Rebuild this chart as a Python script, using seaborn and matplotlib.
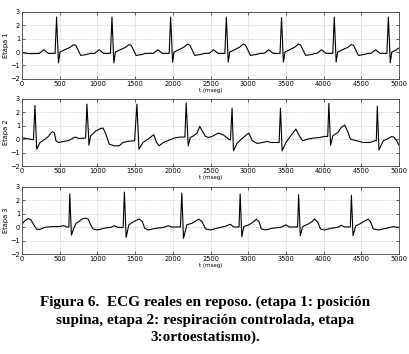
import seaborn as sns
import matplotlib.pyplot as plt

# keypoints (t in ms, amplitude)
t1 = [0, 100,
      227, 287, 347, 437, 457, 482, 502, 577, 637, 682, 712, 747, 777, 857, 907,
      962, 1022, 1082, 1172, 1192, 1217, 1237, 1312, 1372, 1417, 1447, 1482, 1512, 1592, 1642,
      1741, 1801, 1861, 1951, 1971, 1996, 2016, 2091, 2151, 2196, 2226, 2261, 2291, 2371, 2421,
      2480, 2540, 2600, 2690, 2710, 2735, 2755, 2830, 2890, 2935, 2965, 3000, 3030, 3110, 3160,
      3212, 3272, 3332, 3422, 3442, 3467, 3487, 3562, 3622, 3667, 3697, 3732, 3762, 3842, 3892,
      3912, 3972, 4032, 4122, 4142, 4167, 4187, 4262, 4322, 4367, 4397, 4432, 4462, 4542, 4592,
      4630, 4690, 4750, 4840, 4860, 4885, 4905, 4960, 5000]
v1 = [-0.05, -0.12,
      -0.1, 0.17, -0.1, -0.1, 2.6, -0.8, 0.0, 0.2, 0.35, 0.55, 0.5, 0.1, -0.25, -0.18, -0.1,
      -0.1, 0.17, -0.1, -0.1, 2.6, -0.8, 0.0, 0.2, 0.35, 0.55, 0.5, 0.1, -0.25, -0.18, -0.1,
      -0.1, 0.17, -0.1, -0.1, 2.6, -0.75, 0.0, 0.2, 0.38, 0.6, 0.5, 0.1, -0.25, -0.18, -0.1,
      -0.1, 0.17, -0.1, -0.1, 2.6, -0.75, 0.0, 0.2, 0.38, 0.6, 0.5, 0.1, -0.25, -0.18, -0.1,
      -0.1, 0.17, -0.1, -0.1, 2.55, -0.75, 0.0, 0.2, 0.38, 0.6, 0.5, 0.1, -0.25, -0.18, -0.1,
      -0.1, 0.17, -0.1, -0.1, 2.6, -0.75, 0.0, 0.2, 0.35, 0.55, 0.5, 0.1, -0.25, -0.18, -0.1,
      -0.1, 0.17, -0.1, -0.1, 2.6, -0.8, 0.0, 0.15, 0.3]

t2 = [0, 100, 150, 170, 193, 237, 305, 349, 381, 403, 430, 448, 484, 618, 685, 708, 753, 842,
      860, 887, 909, 977, 1044, 1075, 1111, 1156, 1223, 1290, 1335, 1402, 1492,
      1523, 1550, 1604, 1671, 1716, 1747, 1783, 1819, 1873, 1962, 2029, 2097, 2160,
      2177, 2204, 2231, 2276, 2321, 2357, 2388, 2433, 2478, 2518, 2608, 2674, 2741, 2764,
      2786, 2804, 2853, 2920, 2987, 3009, 3054, 3120, 3187, 3254, 3299, 3410,
      3428, 3450, 3500, 3566, 3633, 3678, 3723, 3789, 3856, 3946, 4012, 4055,
      4070, 4093, 4124, 4191, 4235, 4280, 4325, 4356, 4436, 4525, 4615, 4681, 4700,
      4713, 4735, 4793, 4860, 4905, 4936, 4971, 5000]
v2 = [0.1, 0.0, -0.05, 2.5, -0.75, -0.25, 0.0, 0.2, 0.45, 0.55, 0.45, -0.12, -0.25, -0.1, 0.1, 0.15, 0.05, 0.08,
      2.6, -0.45, 0.25, 0.6, 0.8, 0.82, 0.37, -0.37, -0.5, -0.5, -0.25, -0.17, -0.12,
      2.6, -0.75, -0.25, 0.0, 0.2, 0.32, -0.25, -0.5, -0.25, -0.05, 0.1, 0.15, 0.15,
      2.7, -0.5, 0.12, 0.25, 0.45, 0.95, 0.62, 0.2, 0.12, 0.2, 0.45, 0.3, 0.0, -0.07,
      2.3, -0.87, -0.3, 0.05, 0.37, 0.45, -0.12, -0.32, -0.25, -0.17, -0.25, -0.25,
      2.3, -0.87, -0.25, 0.25, 0.75, 0.25, -0.12, 0.0, 0.07, 0.12, 0.2, 0.2,
      2.65, -0.45, 0.25, 0.5, 0.87, 1.05, 0.5, 0.0, -0.12, -0.25, -0.25, -0.12, -0.12,
      2.45, -0.8, -0.12, 0.05, 0.2, 0.12, -0.12, -0.45]

t3 = [0, 36, 81, 116, 161, 193, 237, 305, 394, 484, 551, 596, 620,
      632, 654, 685, 717, 753, 797, 842, 878, 909, 941, 999, 1089, 1178, 1223, 1268, 1340,
      1357, 1380, 1416, 1469, 1550, 1595, 1626, 1671, 1783, 1873, 1940, 1985, 2100,
      2119, 2141, 2186, 2253, 2343, 2388, 2433, 2500, 2589, 2697, 2764, 2808, 2878,
      2893, 2915, 2942, 3009, 3076, 3107, 3143, 3174, 3232, 3321, 3433, 3500, 3544, 3655,
      3669, 3691, 3723, 3789, 3847, 3879, 3923, 3959, 4012, 4102, 4191, 4235, 4280, 4355,
      4369, 4391, 4427, 4481, 4548, 4592, 4623, 4659, 4726, 4838, 4927, 4971, 5000]
v3 = [0.25, 0.48, 0.65, 0.55, 0.12, -0.15, -0.15, 0.0, 0.05, 0.05, 0.12, 0.02, 0.02,
      2.48, -0.58, -0.07, 0.3, 0.42, 0.62, 0.68, 0.6, 0.18, -0.12, -0.2, -0.07, 0.0, 0.12, 0.0, -0.02,
      2.62, -0.75, 0.18, 0.38, 0.62, 0.42, -0.07, -0.2, -0.07, -0.02, 0.12, 0.02, 0.02,
      2.55, -0.82, 0.18, 0.3, 0.6, 0.42, -0.12, -0.2, -0.07, 0.08, 0.22, 0.02, 0.02,
      2.48, -0.7, 0.05, 0.18, 0.42, 0.6, 0.42, -0.12, -0.2, -0.07, 0.0, 0.18, 0.02, 0.02,
      2.42, -0.62, 0.05, 0.22, 0.42, 0.62, 0.38, -0.12, -0.2, -0.07, 0.0, 0.15, 0.02, 0.02,
      2.38, -0.62, 0.1, 0.25, 0.48, 0.6, 0.42, -0.12, -0.2, -0.07, 0.05, 0.0, 0.0]

series = [(t1, v1, "Etapa 1"), (t2, v2, "Etapa 2"), (t3, v3, "Etapa 3")]
xticks = [0, 500, 1000, 1500, 2000, 2500, 3000, 3500, 4000, 4500, 5000]
yticks = [-2, -1, 0, 1, 2, 3]
caption = ["Figura 6.  ECG reales en reposo. (etapa 1: posición",
           "supina, etapa 2: respiración controlada, etapa",
           "3:ortoestatismo)."]

sns.set_style("white")
fig = plt.figure(figsize=(4.10, 3.54), dpi=100)
rects = [(0.054, 0.777, 0.919, 0.190),
         (0.054, 0.531, 0.919, 0.190),
         (0.054, 0.282, 0.919, 0.190)]

for (t, v, name), r in zip(series, rects):
    ax = fig.add_axes(r)
    sns.lineplot(x=t, y=v, ax=ax, color="black", lw=0.8, estimator=None)
    ax.set_xlim(0, 5000)
    ax.set_ylim(-2, 3)
    ax.set_xticks(xticks)
    ax.set_yticks(yticks)
    ax.tick_params(labelsize=4.8, direction="in", length=2, width=0.5, pad=1.5,
                   labelcolor="black", top=True, right=True, bottom=True, left=True)
    ax.grid(True, ls=":", lw=0.5, color="#aaaaaa")
    for s in ax.spines.values():
        s.set_linewidth(0.6)
        s.set_color("#444444")
    ax.set_xlabel("t (mseg)", fontsize=4, labelpad=0.5, color="black")
    ax.set_ylabel(name, fontsize=4.8, labelpad=1, color="black")

ys = [0.147, 0.096, 0.048]
for line, y in zip(caption, ys):
    fig.text(0.5, y, line, ha="center", va="center", fontsize=11, color="black",
             fontweight="bold", family="Liberation Serif")

fig.savefig("out.png", dpi=100)
